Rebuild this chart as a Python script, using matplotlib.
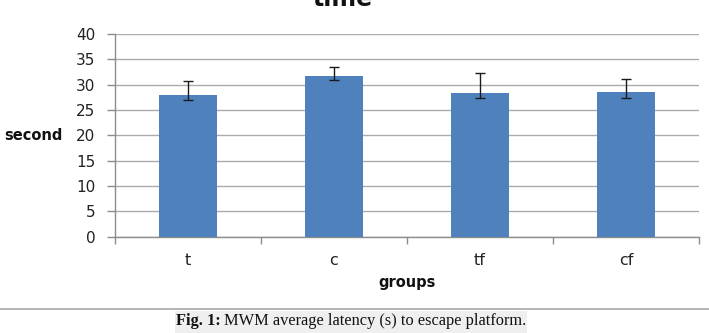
import matplotlib
matplotlib.use('Agg')
import matplotlib.pyplot as plt
from matplotlib.patches import Rectangle
from matplotlib.lines import Line2D
import numpy as np

groups = ['t', 'c', 'tf', 'cf']
mean_time = [28.0, 31.7, 28.3, 28.5]
err_up = [2.8, 1.8, 4.0, 2.6]
err_down = [0.95, 0.85, 1.0, 1.2]
y_ticks = [0, 5, 10, 15, 20, 25, 30, 35, 40]

W, H = 709, 333
fig = plt.figure(figsize=(W / 100, H / 100), dpi=100)


def fx(px):
    return px / W


def fy(py):
    return (H - py) / H


# plot area in pixel coords of the reference
ax = fig.add_axes([fx(115), fy(236.6), fx(699) - fx(115), fy(34) - fy(236.6)])

x = np.arange(len(groups))
ax.bar(x, mean_time, width=0.395, color='#4F81BD', zorder=3)
ax.errorbar(x, mean_time, yerr=[err_down, err_up], fmt='none',
            ecolor='#1a1a1a', elinewidth=1, capsize=3.6, capthick=1, zorder=4)

ax.set_xlim(-0.5, len(groups) - 0.5)
ax.set_ylim(0, 40)
ax.set_yticks(y_ticks)
ax.set_yticklabels([str(v) for v in y_ticks], fontsize=11, color='#222222')
ax.set_xticks(x)
ax.set_xticklabels(groups, fontsize=11.5, color='#222222')
ax.set_xticks(np.arange(-0.5, len(groups)), minor=True)

ax.yaxis.grid(True, color='#ababab', linewidth=1, zorder=0)
ax.set_axisbelow(True)
for s in ['top', 'right']:
    ax.spines[s].set_visible(False)
for s in ['left', 'bottom']:
    ax.spines[s].set_color('#8c8c8c')
    ax.spines[s].set_linewidth(1)

ax.tick_params(axis='y', length=6, width=1, color='#8c8c8c', pad=8)
ax.tick_params(axis='x', which='major', length=0, pad=12)
ax.tick_params(axis='x', which='minor', length=5, width=1, color='#8c8c8c')

# titles and labels (title is cropped at the top edge, as in the source image)
fig.text(fx(343), fy(6.5), 'time', fontsize=17, fontweight='bold',
         ha='center', va='baseline', color='#111111')
fig.text(fx(4), fy(136), 'second', fontsize=10.5, fontweight='bold',
         ha='left', va='center', color='#111111')
fig.text(fx(407), fy(283), 'groups', fontsize=10.5, fontweight='bold',
         ha='center', va='center', color='#111111')

# caption area
fig.add_artist(Line2D([0, 1], [fy(309), fy(309)], color='#a8a8a8', linewidth=1.2))
fig.add_artist(Rectangle((fx(175), 0), fx(527) - fx(175), fy(310.5),
                         facecolor='#efefef', edgecolor='none'))
t1 = fig.text(fx(176), fy(321), 'Fig. 1:', fontsize=11.8, fontweight='bold',
              family='Liberation Serif', ha='left', va='center', color='#111111')
fig.canvas.draw()
bb = t1.get_window_extent(renderer=fig.canvas.get_renderer())
fig.text(bb.x1 / W + fx(3.5), fy(321), 'MWM average latency (s) to escape platform.',
         fontsize=11.8, family='Liberation Serif', ha='left', va='center',
         color='#111111')

fig.savefig('out.png', dpi=100)
